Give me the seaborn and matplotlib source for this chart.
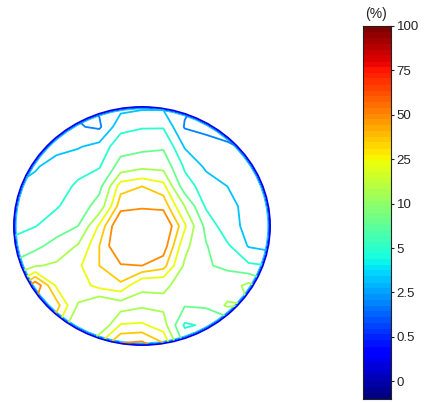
import numpy as np
import matplotlib
matplotlib.use("Agg")
import matplotlib.pyplot as plt
from matplotlib.patches import Ellipse
from matplotlib.colors import Normalize
import seaborn as sns

sns.set_theme(style="white")
plt.rcParams['font.family'] = ['Liberation Sans', 'DejaVu Sans']

# Field values on a 13x13 grid (colour-scale index units: 0->0%, 1->0.5%, 2->2.5%,
# 3->5%, 4->10%, 5->25%, 6->50%, 7->75%, 8->100%), rows from top to bottom.
r00 = [1.5, 1.5, 1.5, 1.6, 1.8, 2.1, 2.2, 2.2, 1.8, 1.5, 1.4, 1.4, 1.4]
r01 = [1.6, 1.6, 1.6, 1.75, 1.6, 2.7, 2.85, 2.85, 1.65, 1.5, 1.4, 1.4, 1.4]
r02 = [1.8, 1.9, 2.15, 2.25, 2.5, 3.3, 3.4, 3.5, 2.25, 2.0, 1.8, 1.6, 1.5]
r03 = [2.1, 2.25, 2.5, 2.7, 2.85, 3.9, 4.15, 4.1, 2.8, 2.2, 1.95, 1.8, 1.7]
r04 = [2.3, 2.45, 2.65, 3.0, 3.4, 5.2, 5.4, 5.1, 3.2, 2.6, 2.3, 2.1, 2.0]
r05 = [2.6, 2.7, 2.85, 3.2, 3.9, 5.7, 5.8, 5.75, 4.3, 2.8, 2.4, 2.2, 2.1]
r06 = [2.8, 2.88, 3.2, 3.6, 5.0, 6.5, 6.6, 6.5, 5.0, 3.4, 2.45, 2.2, 2.2]
r07 = [3.0, 3.4, 3.9, 4.35, 5.4, 6.5, 6.6, 6.2, 4.5, 3.65, 3.0, 2.25, 2.1]
r08 = [3.8, 4.25, 4.4, 4.8, 5.4, 5.85, 5.9, 5.6, 4.2, 3.65, 3.5, 3.0, 2.9]
r09 = [5.0, 6.3, 4.8, 4.6, 5.1, 5.3, 4.35, 4.4, 4.1, 3.7, 3.9, 4.5, 3.8]
r10 = [5.5, 5.8, 5.6, 4.25, 3.65, 4.0, 4.2, 4.15, 3.65, 3.7, 4.4, 4.3, 4.0]
r11 = [5.0, 5.0, 5.0, 3.6, 3.7, 4.95, 5.0, 4.6, 2.8, 3.0, 3.0, 3.0, 3.0]
r12 = [4.5, 4.5, 4.5, 4.0, 5.0, 6.0, 6.1, 5.5, 3.5, 3.0, 3.0, 3.0, 3.0]

contour_levels = [1.7, 2.3, 2.9, 3.6, 4.3, 4.9, 5.4, 5.9]
tick_labels = ["0", "0.5", "2.5", "5", "10", "25", "50", "75", "100"]
tick_index = [0, 1, 2, 3, 4, 5, 6, 7, 8]
scale_min, scale_max = -0.4, 8.0

Z = np.array([r00, r01, r02, r03, r04, r05, r06, r07, r08, r09, r10, r11, r12])
xs = np.linspace(-1, 1, Z.shape[1])
ys = np.linspace(1, -1, Z.shape[0])
X, Y = np.meshgrid(xs, ys)

jet64 = plt.get_cmap('jet', 64)
norm = Normalize(scale_min, scale_max)

fig = plt.figure(figsize=(4.25, 4.03), dpi=100)
ax = fig.add_axes([14 / 425, (403 - 345) / 403, 256 / 425, 238 / 403])
ax.set_xlim(-1, 1)
ax.set_ylim(-1, 1)
ax.axis('off')

cs = ax.contour(X, Y, Z, levels=contour_levels, cmap=jet64, norm=norm, linewidths=1.3)
clip = Ellipse((0, 0), 1.985, 1.985, transform=ax.transData, facecolor='none', edgecolor='none')
ax.add_patch(clip)
cs.set_clip_path(clip)

# circular border (field falls to zero at the rim)
for s, v, lw in [(1.0, 0.5, 1.4), (0.99, 1.5, 0.8), (0.983, 2.3, 0.6)]:
    ax.add_patch(Ellipse((0, 0), 2 * s, 2 * s, fill=False, ec=jet64(norm(v)), lw=lw, clip_on=False))

# colour bar drawn with seaborn
cax = fig.add_axes([363 / 425, (403 - 399) / 403, 28 / 425, 373 / 403])
nrow = 420
grad = np.linspace(scale_max, scale_min, nrow)[:, None]
sns.heatmap(grad, cmap=jet64, vmin=scale_min, vmax=scale_max, cbar=False, ax=cax,
            xticklabels=False, yticklabels=False)
pos = [(scale_max - v) / (scale_max - scale_min) * nrow for v in tick_index]
cax.yaxis.tick_right()
cax.set_yticks(pos)
cax.set_yticklabels(tick_labels)
cax.tick_params(axis='y', right=True, left=False, direction='inout', length=4, width=0.8,
                labelsize=9.5, pad=2, colors='#222222')
for sp in cax.spines.values():
    sp.set_visible(True)
    sp.set_color('#222222')
    sp.set_linewidth(0.8)

fig.text(376 / 425, 1 - 14 / 403, "(%)", ha='center', va='center', fontsize=10, color='#222222')

fig.savefig("out.png", dpi=100)
